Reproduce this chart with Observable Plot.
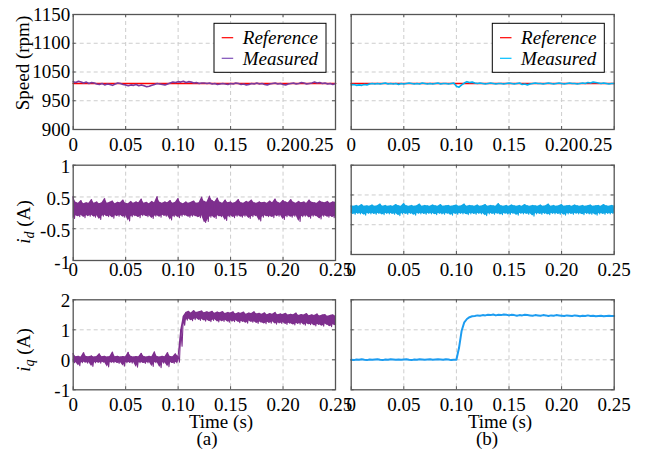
<!DOCTYPE html>
<html><head><meta charset="utf-8">
<script src="https://cdn.jsdelivr.net/npm/d3@7"></script>
<script src="https://cdn.jsdelivr.net/npm/@observablehq/plot@0.6"></script>
<style>
html,body{margin:0;padding:0;background:#fff;}
#wrap{position:relative;width:646px;height:450px;overflow:hidden;background:#fff;}
#wrap svg{position:absolute;left:0;top:0;}
#wrap svg text{font-family:"Liberation Serif","Tinos","Times New Roman","Nimbus Roman","DejaVu Serif",serif !important;}
</style></head><body><div id="wrap"></div>
<script>
// ---------- tick values and labels ----------
const timeTicks = [0, 0.05, 0.1, 0.15, 0.2, 0.25];
const timeTickLabels = ["0", "0.05", "0.10", "0.15", "0.20", "0.25"];
const speedTicks = [900, 962.5, 1025, 1087.5, 1150];
const speedTickLabels = ["900", "950", "1050", "1100", "1150"];
const idTicks = [-1, -1/3, 1/3, 1];
const idTickLabels = ["-1", "-0.5", "0.5", "1"];
const iqTicks = [-1, 0, 1, 2];
const iqTickLabels = ["-1", "0", "1", "2"];

// ---------- speed (rpm) ----------
const speedRefTime = [0, 0.25];
const speedRef = [1000, 1000];
const speedMeasA = [1004,1002,1005,1003,1001,1003,1000,1002,1001,999,
  998,1000,997,999,998,996,999,1001,1000,998,
  997,995,997,996,998,995,997,995,993,994,
  996,998,1000,999,998,997,999,1001,1003,1002,
  1004,1003,1005,1002,1004,1003,1001,1002,1000,1001,
  1001,1000,1001,999,1000,998,999,1000,999,998,
  1000,999,1001,1000,998,999,997,998,1000,999,
  1001,999,1000,998,997,999,1000,1001,999,1000,
  998,997,999,1000,1001,999,1000,1002,1001,999,
  1000,1001,1003,1001,1002,1000,1001,999,1000,998,1000];
const speedMeasB = [997,998,996,997,996,998,997,999,1000,999,
  1000,999,1000,1001,999,1000,999,1000,998,1000,
  999,1000,1001,1000,999,1000,999,1001,1000,999,
  1000,999,1000,1001,999,1000,1000,999,1000,1001,
  994,992,997,1001,1004,1002,1003,1001,1000,1001,
  1000,999,1000,1001,1000,999,1000,1000,999,1000,
  1001,1000,999,1000,1001,998,999,997,999,1000,
  1001,1000,1000,999,1000,1001,1000,999,1000,1001,
  1000,999,1000,1001,1000,1000,999,1000,1001,1000,
  1002,1001,1003,1002,1001,1000,1001,1000,999,1000,1000];

// ---------- i_d (A): upper / lower swing of the noisy trace ----------
const idAHigh = [0.34,0.22,0.20,0.26,0.19,0.21,0.20,0.28,0.20,0.23,
  0.19,0.21,0.30,0.20,0.22,0.25,0.19,0.22,0.21,0.27,
  0.20,0.19,0.24,0.20,0.23,0.21,0.29,0.20,0.22,0.19,
  0.24,0.21,0.34,0.22,0.20,0.23,0.21,0.26,0.20,0.22,
  0.30,0.21,0.19,0.23,0.20,0.22,0.25,0.20,0.21,0.33,
  0.24,0.22,0.35,0.26,0.23,0.31,0.22,0.20,0.27,0.21,
  0.23,0.20,0.22,0.28,0.21,0.20,0.24,0.22,0.27,0.21,
  0.20,0.23,0.21,0.22,0.20,0.25,0.21,0.29,0.22,0.20,
  0.26,0.23,0.21,0.28,0.22,0.20,0.24,0.21,0.23,0.20,
  0.27,0.22,0.21,0.20,0.25,0.22,0.21,0.24,0.20,0.23,0.22];
const idALow = [-0.12,-0.06,-0.08,-0.05,-0.10,-0.06,-0.07,-0.05,-0.09,-0.06,
  -0.14,-0.07,-0.05,-0.08,-0.06,-0.11,-0.06,-0.07,-0.05,-0.09,
  -0.06,-0.17,-0.08,-0.06,-0.07,-0.10,-0.06,-0.05,-0.08,-0.06,
  -0.12,-0.07,-0.06,-0.09,-0.05,-0.07,-0.06,-0.15,-0.08,-0.06,
  -0.10,-0.07,-0.05,-0.06,-0.09,-0.07,-0.06,-0.08,-0.10,-0.06,
  -0.20,-0.18,-0.09,-0.07,-0.12,-0.06,-0.08,-0.07,-0.16,-0.08,
  -0.06,-0.10,-0.07,-0.06,-0.09,-0.07,-0.06,-0.12,-0.08,-0.06,
  -0.07,-0.17,-0.09,-0.06,-0.08,-0.07,-0.10,-0.06,-0.07,-0.05,
  -0.14,-0.08,-0.06,-0.09,-0.07,-0.06,-0.18,-0.08,-0.07,-0.06,
  -0.11,-0.07,-0.06,-0.08,-0.13,-0.07,-0.06,-0.09,-0.07,-0.10,-0.06];
const idBHigh = [0.09,0.08,0.10,0.08,0.12,0.08,0.09,0.08,0.11,0.08,
  0.09,0.13,0.08,0.10,0.08,0.09,0.08,0.12,0.09,0.08,
  0.14,0.09,0.08,0.10,0.08,0.09,0.13,0.08,0.10,0.09,
  0.08,0.11,0.09,0.08,0.12,0.08,0.09,0.10,0.08,0.09,
  0.11,0.08,0.09,0.13,0.08,0.10,0.09,0.08,0.11,0.08,
  0.09,0.12,0.08,0.10,0.09,0.08,0.14,0.09,0.08,0.10,
  0.08,0.11,0.09,0.08,0.10,0.08,0.12,0.09,0.08,0.10,
  0.09,0.08,0.11,0.08,0.09,0.13,0.08,0.10,0.08,0.09,
  0.12,0.08,0.09,0.10,0.08,0.11,0.09,0.08,0.10,0.08,
  0.09,0.11,0.08,0.09,0.10,0.08,0.12,0.09,0.08,0.10,0.09];
const idBLow = [-0.08,-0.10,-0.08,-0.09,-0.08,-0.12,-0.08,-0.09,-0.08,-0.10,
  -0.08,-0.09,-0.11,-0.08,-0.09,-0.08,-0.10,-0.08,-0.13,-0.09,
  -0.08,-0.10,-0.08,-0.09,-0.12,-0.08,-0.09,-0.08,-0.10,-0.08,
  -0.09,-0.08,-0.11,-0.08,-0.09,-0.10,-0.08,-0.09,-0.12,-0.08,
  -0.10,-0.08,-0.09,-0.08,-0.11,-0.09,-0.08,-0.10,-0.08,-0.09,
  -0.08,-0.13,-0.09,-0.08,-0.10,-0.08,-0.09,-0.11,-0.08,-0.09,
  -0.10,-0.08,-0.09,-0.12,-0.08,-0.09,-0.08,-0.10,-0.08,-0.14,
  -0.09,-0.08,-0.10,-0.08,-0.09,-0.11,-0.08,-0.09,-0.08,-0.10,
  -0.08,-0.12,-0.09,-0.08,-0.10,-0.08,-0.09,-0.08,-0.11,-0.08,
  -0.09,-0.10,-0.08,-0.12,-0.09,-0.08,-0.10,-0.08,-0.09,-0.08,-0.09];

// ---------- i_q (A) ----------
const iqAHigh = [0.22,0.10,0.12,0.09,0.24,0.11,0.10,0.13,0.09,0.11,
  0.20,0.10,0.12,0.09,0.11,0.26,0.10,0.12,0.09,0.11,
  0.10,0.25,0.12,0.09,0.11,0.10,0.22,0.11,0.09,0.12,
  0.10,0.27,0.11,0.09,0.12,0.10,0.24,0.11,0.10,0.20,
  0.12,
  1.00,1.45,1.58,1.62,1.56,1.64,1.58,1.60,1.63,1.57,
  1.60,1.58,1.62,1.55,1.59,1.57,1.61,1.54,1.58,1.56,
  1.60,1.53,1.57,1.55,1.59,1.52,1.56,1.54,1.60,1.53,
  1.55,1.52,1.57,1.50,1.54,1.52,1.58,1.50,1.53,1.51,
  1.55,1.49,1.52,1.50,1.56,1.48,1.51,1.49,1.54,1.47,
  1.50,1.48,1.53,1.46,1.49,1.51,1.45,1.48,1.50,1.46];
const iqALow = [-0.10,-0.09,-0.20,-0.10,-0.08,-0.11,-0.09,-0.22,-0.10,-0.09,
  -0.11,-0.08,-0.10,-0.24,-0.09,-0.10,-0.08,-0.12,-0.09,-0.21,
  -0.10,-0.09,-0.11,-0.08,-0.25,-0.10,-0.09,-0.12,-0.10,-0.08,
  -0.22,-0.10,-0.09,-0.26,-0.11,-0.10,-0.23,-0.09,-0.12,-0.10,
  -0.08,
  0.45,1.15,1.32,1.36,1.30,1.34,1.38,1.31,1.35,1.29,
  1.33,1.27,1.31,1.34,1.26,1.30,1.28,1.32,1.25,1.29,
  1.27,1.31,1.24,1.28,1.26,1.22,1.29,1.25,1.27,1.21,
  1.26,1.23,1.20,1.25,1.22,1.27,1.19,1.23,1.21,1.24,
  1.18,1.22,1.20,1.16,1.21,1.19,1.23,1.15,1.20,1.17,
  1.19,1.13,1.18,1.16,1.12,1.19,1.15,1.10,1.17,1.14];
const iqB = [0.00,-0.01,0.01,0.00,0.02,0.00,-0.01,0.01,0.00,0.01,
  0.02,0.00,-0.01,0.01,0.00,0.02,0.01,0.00,0.01,0.00,
  0.01,0.02,0.00,-0.01,0.01,0.00,0.02,0.01,0.00,0.01,
  0.02,0.00,0.01,0.02,0.01,0.00,0.02,0.01,-0.01,0.00,
  0.00,
  0.40,0.97,1.25,1.36,1.42,1.45,1.46,1.48,1.47,1.49,
  1.48,1.50,1.49,1.51,1.48,1.50,1.49,1.51,1.50,1.48,
  1.50,1.49,1.47,1.49,1.48,1.50,1.49,1.48,1.47,1.49,
  1.48,1.47,1.49,1.48,1.46,1.48,1.47,1.49,1.48,1.47,
  1.46,1.48,1.47,1.46,1.48,1.47,1.45,1.47,1.46,1.48,
  1.46,1.47,1.45,1.46,1.47,1.45,1.46,1.47,1.46,1.46];

// ---------- styling ----------
const W = 646, H = 450;
const serif = "'Liberation Serif', Tinos, 'Times New Roman', 'Nimbus Roman', 'DejaVu Serif', serif";
const FS = 19;
const red = "#ff0000";
const purpleSpeed = "#7a3a9e";
const purple = "#7e2f8e";
const cyanSpeed = "#00b2f2";
const cyanId = "#10a7e6";
const cyanIq = "#1c9cf0";
const gridColor = "#cdcdcd";
const frameColor = "#555555";

function series(values) {
  const n = values.length;
  return values.map((v, i) => ({t: i * 0.25 / (n - 1), v}));
}
function band(hi, lo) {
  const n = Math.min(hi.length, lo.length);
  return d3.range(n).map(i => ({t: i * 0.25 / (n - 1), hi: hi[i], lo: lo[i]}));
}
// noisy trace: swings alternately between the read upper and lower values
function swing(hi, lo) {
  const n = Math.min(hi.length, lo.length), dt = 0.25 / (n - 1), out = [];
  for (let i = 0; i < n; i++) {
    out.push({t: i * dt, v: hi[i]});
    if (i < n - 1) out.push({t: (i + 0.5) * dt, v: lo[i]});
  }
  return out;
}
const lab = (ticks, labels) => d => labels[ticks.indexOf(d)];
function noisy(hi, lo, color) {
  return [
    Plot.areaY(band(hi, lo), {x: "t", y1: "lo", y2: "hi", fill: color}),
    Plot.line(swing(hi, lo), {x: "t", y: "v", stroke: color, strokeWidth: 1.1})
  ];
}

function panel(o) {
  const w = o.x1 - o.x0, h = o.y1 - o.y0;
  const xl = lab(timeTicks, timeTickLabels);
  const marks = [
    Plot.ruleX(timeTicks.slice(1, -1), {stroke: gridColor, strokeDasharray: "4,3"}),
    Plot.ruleY(o.yTicks.slice(1, -1), {stroke: gridColor, strokeDasharray: "4,3"}),
    Plot.ruleX(timeTicks, {stroke: frameColor, insetTop: h - 3}),
    Plot.ruleX(timeTicks, {stroke: frameColor, insetBottom: h - 3}),
    Plot.ruleY(o.yTicks, {stroke: frameColor, insetRight: w - 3}),
    Plot.ruleY(o.yTicks, {stroke: frameColor, insetLeft: w - 3}),
    ...o.marks,
    Plot.frame({stroke: frameColor, strokeWidth: 1.3})
  ];
  if (o.lastEnd) {
    marks.push(Plot.axisX({ticks: timeTicks.slice(0, -1), tickFormat: xl, tickSize: 0, tickPadding: o.pad, fontSize: FS}));
    marks.push(Plot.text([0.25], {x: d => d, frameAnchor: "bottom", text: xl, textAnchor: "end", lineAnchor: "top", dy: o.pad, dx: -2, fontSize: FS}));
  } else {
    marks.push(Plot.axisX({ticks: timeTicks, tickFormat: xl, tickSize: 0, tickPadding: o.pad, fontSize: FS}));
  }
  if (o.showY) {
    marks.push(Plot.axisY({ticks: o.yTicks, tickFormat: lab(o.yTicks, o.yLabels), tickSize: 0, tickPadding: 3, dy: o.ydy || 0, fontSize: FS}));
  }
  const svg = Plot.plot({
    width: W, height: H,
    marginLeft: o.x0, marginRight: W - o.x1, marginTop: o.y0, marginBottom: H - o.y1,
    x: {domain: [0, 0.25], label: null},
    y: {domain: o.yDomain, label: null, axis: o.showY ? undefined : null},
    style: {background: "transparent", fontFamily: serif, fontSize: FS + "px", color: "black", overflow: "visible", maxWidth: "none"},
    marks
  });
  document.getElementById("wrap").appendChild(svg);
}

const sA = series(speedMeasA), sB = series(speedMeasB);
const ref = speedRef.map((v, i) => ({t: speedRefTime[i], v}));

const L = {x0: 72.7, x1: 335}, R = {x0: 350.7, x1: 613.7};
const rowTop = {y0: 14, y1: 129, yDomain: [900, 1150], yTicks: speedTicks, yLabels: speedTickLabels};
const rowMid = {y0: 164.7, yDomain: [-1, 1], yTicks: idTicks, yLabels: idTickLabels};
const rowBot = {y0: 299.3, y1: 389.3, yDomain: [-1, 2], yTicks: iqTicks, yLabels: iqTickLabels};

panel({...L, ...rowTop, showY: true, lastEnd: true, pad: 8, marks: [
  Plot.line(ref, {x: "t", y: "v", stroke: red, strokeWidth: 1.6}),
  Plot.line(sA, {x: "t", y: "v", stroke: purpleSpeed, strokeWidth: 1.6})
]});
panel({...R, ...rowTop, showY: false, lastEnd: true, pad: 8, marks: [
  Plot.line(ref, {x: "t", y: "v", stroke: red, strokeWidth: 1.6}),
  Plot.line(sB, {x: "t", y: "v", stroke: cyanSpeed, strokeWidth: 1.6})
]});
panel({...L, ...rowMid, y1: 260, showY: true, pad: 2, ydy: 2, marks: noisy(idAHigh, idALow, purple)});
panel({...R, ...rowMid, y1: 254, showY: false, pad: 8, marks: noisy(idBHigh, idBLow, cyanId)});
panel({...L, ...rowBot, showY: true, pad: 8, ydy: 1, marks: noisy(iqAHigh, iqALow, purple)});
panel({...R, ...rowBot, showY: false, pad: 8, marks: [
  Plot.line(series(iqB), {x: "t", y: "v", stroke: cyanIq, strokeWidth: 2})
]});

// ---------- labels and legends ----------
const over = d3.create("svg").attr("width", W).attr("height", H)
  .style("font-family", serif).style("font-size", FS + "px");
over.append("text").attr("transform", "translate(28.5,63) rotate(-90)")
  .attr("text-anchor", "middle").text("Speed (rpm)");
function currentLabel(y, sub) {
  const t = over.append("text").attr("transform", `translate(30,${y}) rotate(-90)`).attr("text-anchor", "middle");
  t.append("tspan").attr("font-style", "italic").text("i");
  t.append("tspan").attr("font-style", "italic").attr("font-size", "14px").attr("dy", 4).text(sub);
  t.append("tspan").attr("dy", -4).text(" (A)");
}
currentLabel(222, "d");
currentLabel(350, "q");
[["(a)", 221, 207], ["(b)", 500, 487]].forEach(([s, cx, cx2]) => {
  over.append("text").attr("x", cx).attr("y", 428).attr("text-anchor", "middle").text("Time (s)");
  over.append("text").attr("x", cx2).attr("y", 445).attr("text-anchor", "middle").text(s);
});
const legendNames = ["Reference", "Measured"];
function legend(x, colors) {
  const g = over.append("g").attr("transform", `translate(${x},23.3)`);
  g.append("rect").attr("width", 112).attr("height", 49).attr("fill", "white").attr("stroke", "black").attr("stroke-width", 1);
  legendNames.forEach((name, i) => {
    const y = 14.4 + i * 20.6;
    g.append("line").attr("x1", 7.7).attr("x2", 19.2).attr("y1", y).attr("y2", y).attr("stroke", colors[i]).attr("stroke-width", 1.2);
    g.append("text").attr("x", 28.8).attr("y", y + 6.5).attr("font-style", "italic").text(name);
  });
}
legend(214, [red, "#7e4fb8"]);
legend(492.3, [red, "#00bfff"]);
document.getElementById("wrap").appendChild(over.node());
</script></body></html>
